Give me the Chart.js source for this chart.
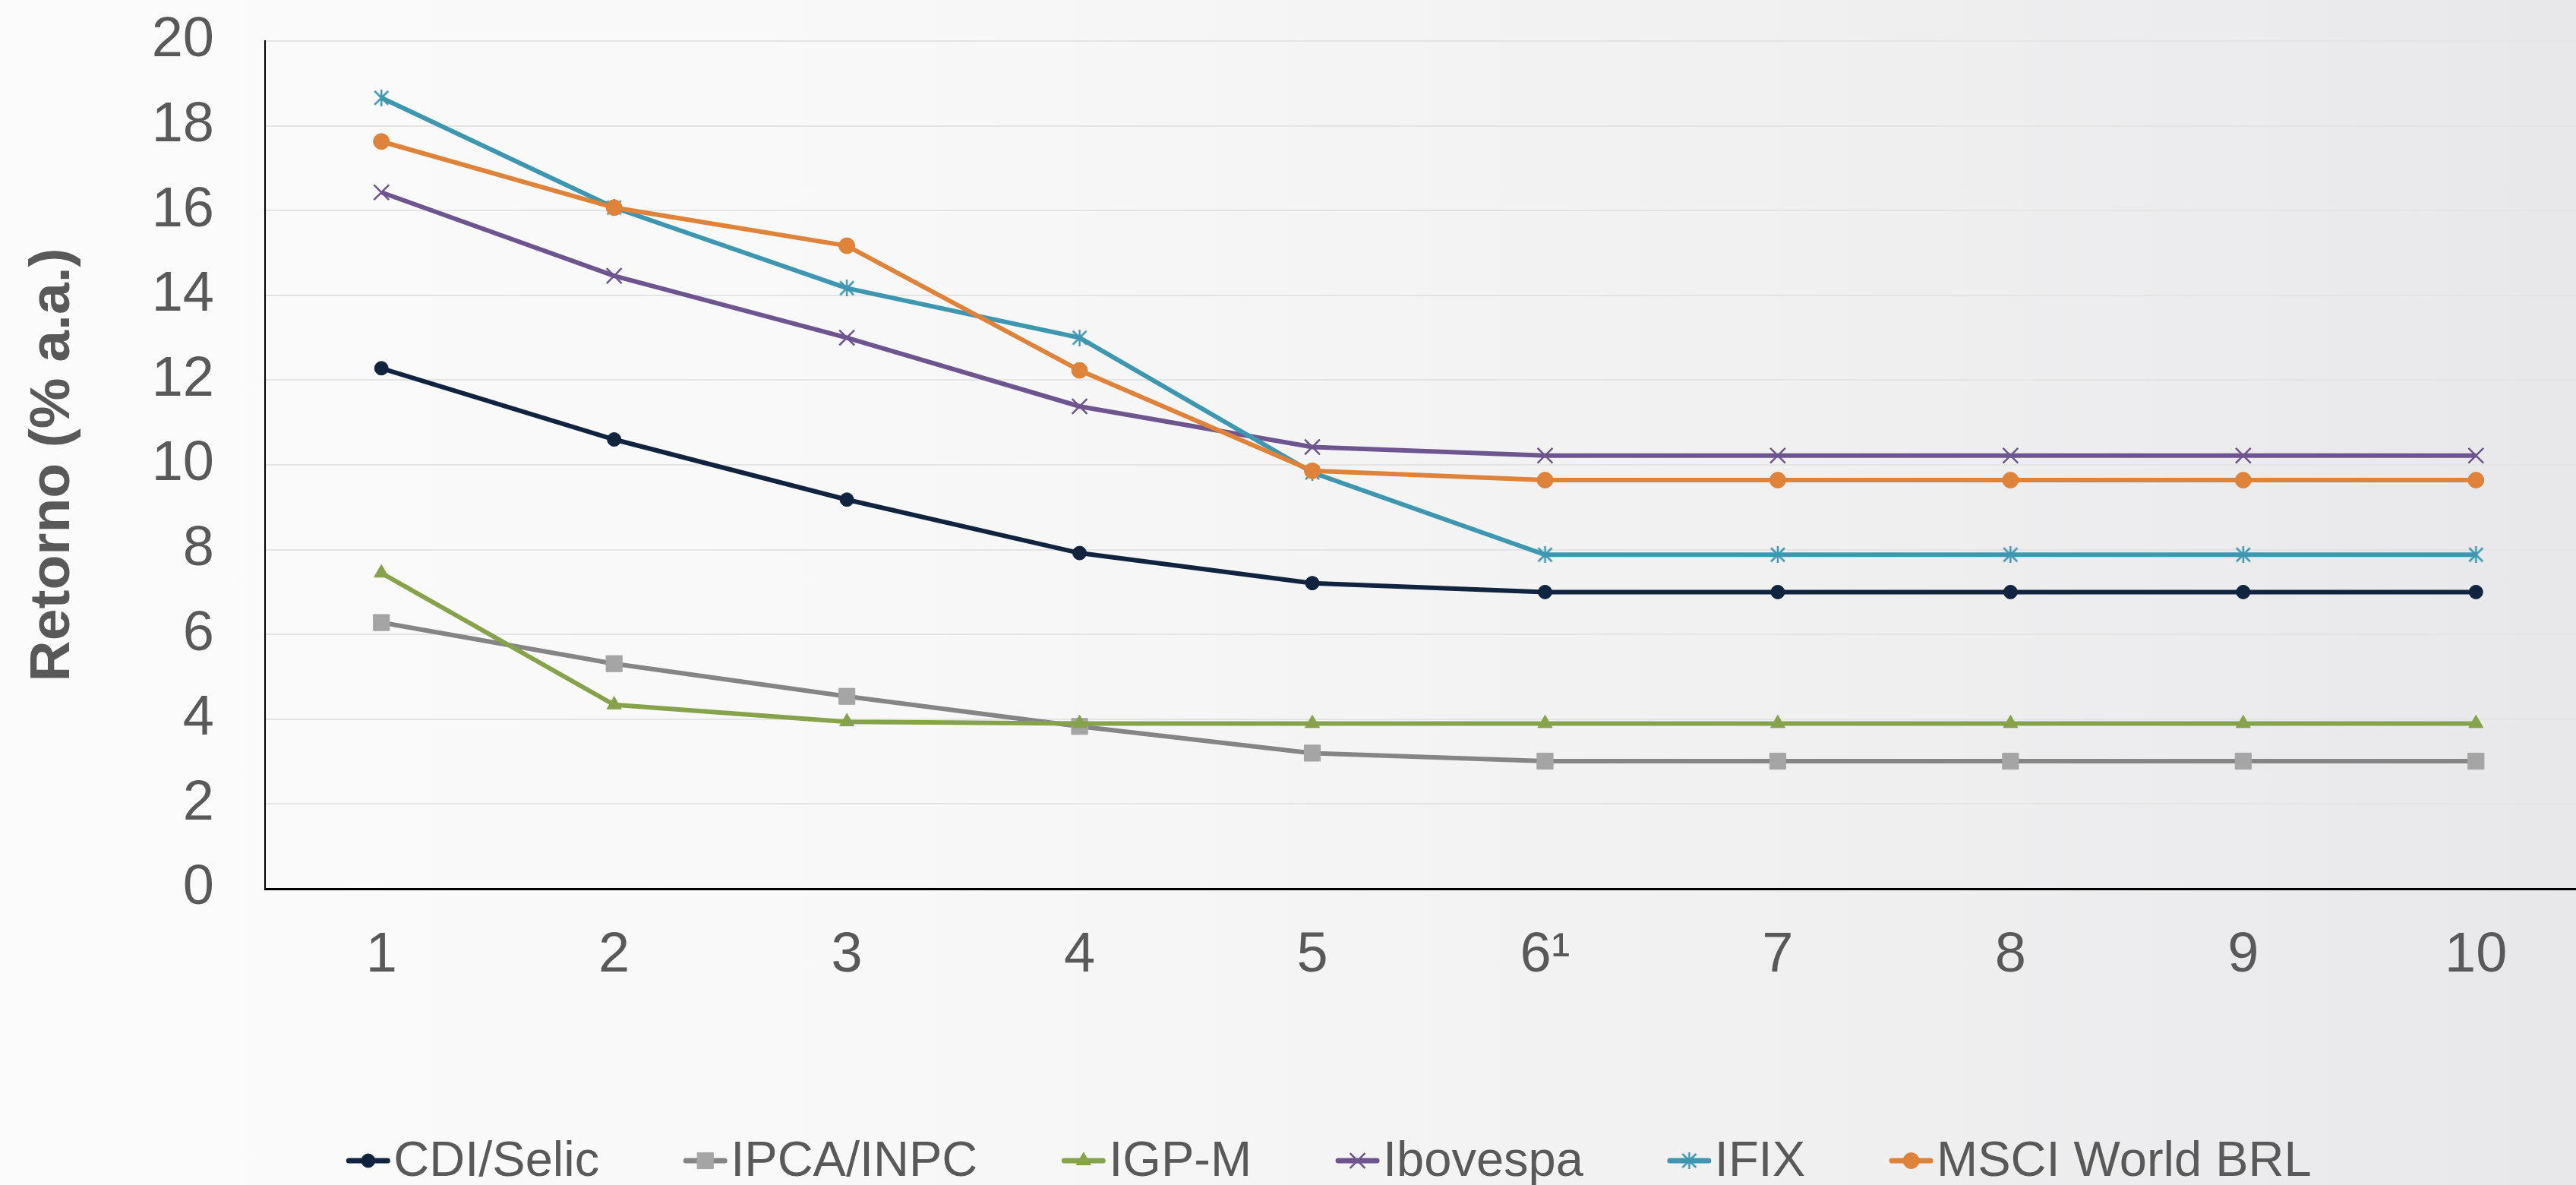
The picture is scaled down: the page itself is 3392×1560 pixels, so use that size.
<!DOCTYPE html>
<html lang="pt-BR">
<head>
<meta charset="utf-8">
<title>Retorno (% a.a.)</title>
<script src="https://cdn.jsdelivr.net/npm/chart.js@4.4.1/dist/chart.umd.min.js"></script>
<style>
    html, body {
        margin: 0;
        padding: 0;
        width: 3392px;
        height: 1560px;
        overflow: hidden;
        background: linear-gradient(to right, #fbfbfb 0%, #f8f8f8 35%, #f0f0f1 70%, #e8e8ea 100%);
    }
    #chart {
        position: absolute;
        left: 0;
        top: 0;
    }
</style>
</head>
<body>
<canvas id="chart" width="3430" height="1560"></canvas>
<script>
const categories = ['1', '2', '3', '4', '5', '6\u00B9', '7', '8', '9', '10'];
const yTicks = { min: 0, max: 20, step: 2 };

const cdiSelic = [12.28, 10.60, 9.18, 7.92, 7.21, 7.00, 7.00, 7.00, 7.00, 7.00];
const ipcaInpc = [6.28, 5.31, 4.54, 3.83, 3.20, 3.01, 3.01, 3.01, 3.01, 3.01];
const igpM = [7.45, 4.34, 3.94, 3.90, 3.90, 3.90, 3.90, 3.90, 3.90, 3.90];
const ibovespa = [16.43, 14.46, 13.00, 11.38, 10.42, 10.22, 10.22, 10.22, 10.22, 10.22];
const ifix = [18.66, 16.07, 14.17, 13.00, 9.82, 7.88, 7.88, 7.88, 7.88, 7.88];
const msciWorld = [17.63, 16.07, 15.17, 12.23, 9.86, 9.64, 9.64, 9.64, 9.64, 9.64];

(() => {
    const FONT = "'Liberation Sans', Arial, sans-serif";
    const TEXT = '#595959';

    // excel-like star: an X with a vertical bar
    const makeStar = (color, size) => {
        const c = document.createElement('canvas');
        c.width = size;
        c.height = size;
        const g = c.getContext('2d');
        g.strokeStyle = color;
        g.lineWidth = 2.5;
        g.beginPath();
        g.moveTo(2, 2);
        g.lineTo(size - 2, size - 2);
        g.moveTo(size - 2, 2);
        g.lineTo(2, size - 2);
        g.moveTo(size / 2, 0);
        g.lineTo(size / 2, size);
        g.stroke();
        return c;
    };

    const series = (label, data, line, marker, style, radius, order) => ({
        label,
        data,
        borderColor: line,
        backgroundColor: marker,
        pointBackgroundColor: marker,
        pointBorderColor: marker,
        pointStyle: style,
        pointRadius: radius,
        pointBorderWidth: style === 'crossRot' ? 2.5 : 1,
        borderWidth: 6,
        tension: 0,
        order,
    });

    const datasets = [
        series('CDI/Selic', cdiSelic, '#10233f', '#10233f', 'circle', 9, 6),
        series('IPCA/INPC', ipcaInpc, '#858585', '#a5a5a5', 'rect', 15, 5),
        series('IGP-M', igpM, '#86a34b', '#86a34b', 'triangle', 11, 4),
        series('Ibovespa', ibovespa, '#6e5590', '#6e5590', 'crossRot', 14, 3),
        series('IFIX', ifix, '#3e97b0', '#3e97b0', makeStar('#3e97b0', 22), 11, 2),
        series('MSCI World BRL', msciWorld, '#df833b', '#df833b', 'circle', 10.5, 1),
    ];

    const LEGEND = { y: 1528, center: 1750, line: 57, textGap: 5, itemGap: 111, size: 65 };

    const lineLegend = {
        id: 'lineLegend',
        afterDraw: (chart) => {
            const { ctx } = chart;
            const helpers = Chart.helpers;
            ctx.save();
            ctx.font = `${LEGEND.size}px ${FONT}`;
            ctx.textBaseline = 'middle';
            const items = chart.data.datasets.map((ds) => ({
                ds,
                width: LEGEND.line + LEGEND.textGap + ctx.measureText(ds.label).width,
            }));
            const total = items.reduce((sum, item) => sum + item.width, 0)
                + LEGEND.itemGap * (items.length - 1);
            let x = LEGEND.center - total / 2;

            items.forEach(({ ds, width }) => {
                ctx.strokeStyle = ds.borderColor;
                ctx.lineWidth = 7;
                ctx.lineCap = 'round';
                ctx.beginPath();
                ctx.moveTo(x + 3, LEGEND.y);
                ctx.lineTo(x + LEGEND.line - 3, LEGEND.y);
                ctx.stroke();

                ctx.fillStyle = ds.pointBackgroundColor;
                ctx.strokeStyle = ds.pointBorderColor;
                ctx.lineWidth = ds.pointBorderWidth;
                ctx.lineCap = 'butt';
                if (helpers && helpers.drawPoint) {
                    helpers.drawPoint(ctx, {
                        pointStyle: ds.pointStyle,
                        radius: ds.pointRadius,
                        rotation: 0,
                        borderWidth: ds.pointBorderWidth,
                    }, x + LEGEND.line / 2, LEGEND.y);
                } else {
                    ctx.beginPath();
                    ctx.arc(x + LEGEND.line / 2, LEGEND.y, 9, 0, Math.PI * 2);
                    ctx.fill();
                }

                ctx.fillStyle = TEXT;
                ctx.textAlign = 'left';
                ctx.fillText(ds.label, x + LEGEND.line + LEGEND.textGap, LEGEND.y + 2);
                x += width + LEGEND.itemGap;
            });
            ctx.restore();
        },
    };

    new Chart(document.getElementById('chart'), {
        type: 'line',
        data: { labels: categories, datasets },
        plugins: [lineLegend],
        options: {
            responsive: false,
            animation: false,
            events: [],
            layout: { padding: { top: 54, left: 0, right: 0, bottom: 0 } },
            plugins: {
                legend: { display: false },
                tooltip: { enabled: false },
            },
            scales: {
                x: {
                    offset: true,
                    grid: { display: false, drawTicks: false },
                    border: { color: '#000000', width: 3 },
                    ticks: {
                        color: TEXT,
                        font: { family: FONT, size: 74 },
                        padding: 44,
                        maxRotation: 0,
                        autoSkip: false,
                    },
                    afterFit: (scale) => { scale.height = 390; },
                },
                y: {
                    min: yTicks.min,
                    max: yTicks.max,
                    grid: { color: '#e4e4e4', lineWidth: 2, drawTicks: false },
                    border: { color: '#000000', width: 2 },
                    ticks: {
                        stepSize: yTicks.step,
                        color: TEXT,
                        font: { family: FONT, size: 74 },
                        padding: 67,
                    },
                    title: {
                        display: true,
                        text: 'Retorno (% a.a.)',
                        color: TEXT,
                        font: { family: FONT, size: 75, weight: 'bold' },
                        padding: { top: 25, bottom: 0 },
                    },
                    afterFit: (scale) => {
                        scale.width = 349;
                        // tick padding would otherwise push the plot top down
                        scale.paddingTop = 0;
                        scale.paddingBottom = 0;
                    },
                },
            },
        },
    });
})();
</script>
</body>
</html>
